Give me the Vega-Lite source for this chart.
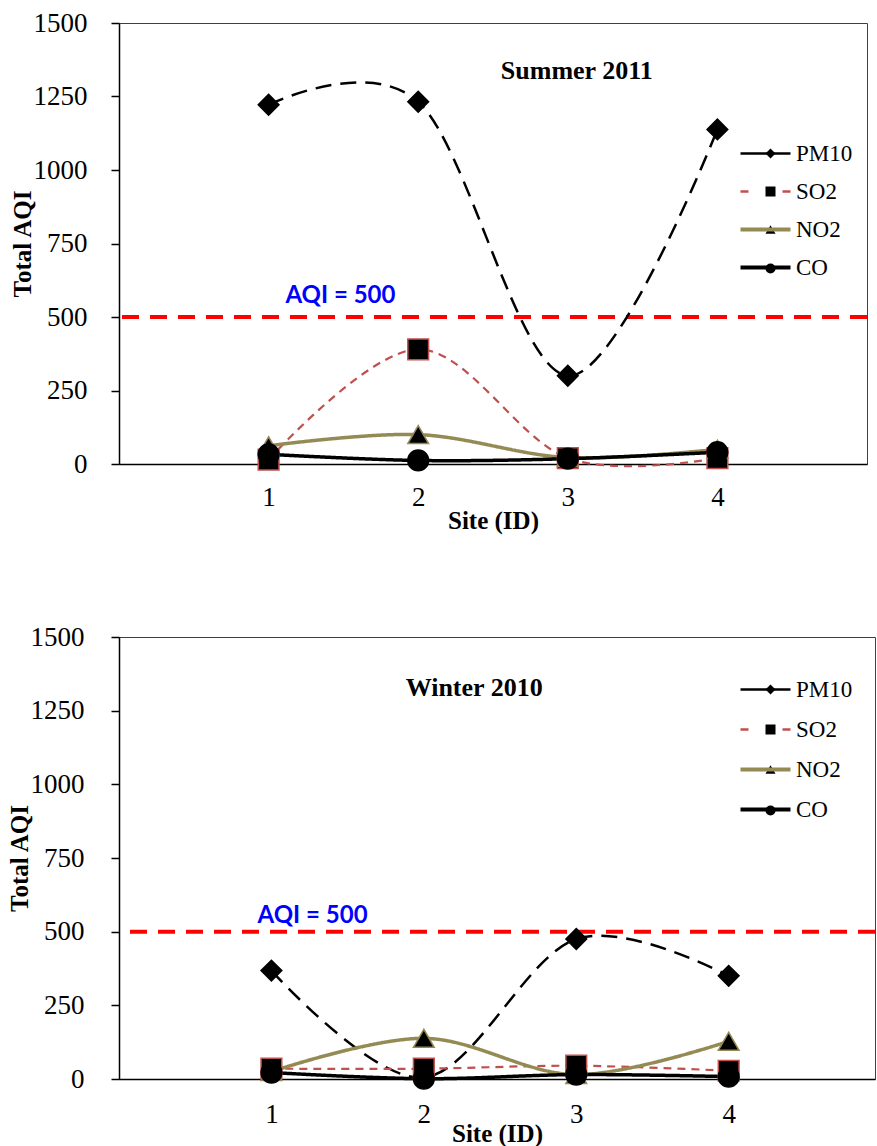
{
  "$schema": "https://vega.github.io/schema/vega-lite/v6.json",
  "padding": {"left": 6, "top": 8, "right": 0, "bottom": 0},
  "datasets": {
    "summer": [
      {"site": 1, "series": "PM10", "value": 1222},
      {"site": 2, "series": "PM10", "value": 1232},
      {"site": 3, "series": "PM10", "value": 300},
      {"site": 4, "series": "PM10", "value": 1138},
      {"site": 1, "series": "SO2", "value": 15},
      {"site": 2, "series": "SO2", "value": 390},
      {"site": 3, "series": "SO2", "value": 20},
      {"site": 4, "series": "SO2", "value": 20},
      {"site": 1, "series": "NO2", "value": 62},
      {"site": 2, "series": "NO2", "value": 100},
      {"site": 3, "series": "NO2", "value": 22},
      {"site": 4, "series": "NO2", "value": 50},
      {"site": 1, "series": "CO", "value": 33},
      {"site": 2, "series": "CO", "value": 12},
      {"site": 3, "series": "CO", "value": 18},
      {"site": 4, "series": "CO", "value": 40}
    ],
    "winter": [
      {"site": 1, "series": "PM10", "value": 368},
      {"site": 2, "series": "PM10", "value": 5},
      {"site": 3, "series": "PM10", "value": 475},
      {"site": 4, "series": "PM10", "value": 350},
      {"site": 1, "series": "SO2", "value": 35},
      {"site": 2, "series": "SO2", "value": 35},
      {"site": 3, "series": "SO2", "value": 45},
      {"site": 4, "series": "SO2", "value": 28},
      {"site": 1, "series": "NO2", "value": 25},
      {"site": 2, "series": "NO2", "value": 138},
      {"site": 3, "series": "NO2", "value": 15},
      {"site": 4, "series": "NO2", "value": 128},
      {"site": 1, "series": "CO", "value": 22},
      {"site": 2, "series": "CO", "value": 1},
      {"site": 3, "series": "CO", "value": 15},
      {"site": 4, "series": "CO", "value": 8}
    ]
  },
  "config": {
    "font": "Liberation Serif",
    "view": {"stroke": "#404040", "strokeWidth": 1},
    "axis": {
      "grid": false,
      "format": "d",
      "domainColor": "black",
      "domainWidth": 1.5,
      "tickColor": "black",
      "tickWidth": 1.5,
      "labelFont": "Liberation Serif",
      "labelFontSize": 27,
      "labelColor": "black",
      "titleFont": "Liberation Serif",
      "titleFontSize": 25,
      "titleFontWeight": "bold",
      "titleColor": "black"
    },
    "axisY": {"tickSize": 8, "labelPadding": 24, "titlePadding": -2},
    "axisX": {"ticks": false, "labelPadding": 20, "titlePadding": -2}
  },
  "spacing": 88,
  "resolve": {
    "scale": {"stroke": "independent", "strokeDash": "independent", "strokeWidth": "independent", "shape": "independent"},
    "legend": {"stroke": "independent", "strokeDash": "independent", "strokeWidth": "independent", "shape": "independent"}
  },
  "vconcat": [
    {
      "width": 748,
      "height": 441,
      "layer": [
        {
          "data": {"values": [{}]},
          "mark": {"type": "rule", "color": "#ff0000", "strokeWidth": 4, "strokeDash": [17, 11]},
          "encoding": {
            "y": {"datum": 500, "type": "quantitative", "title": "Total AQI", "scale": {"domain": [0, 1500], "nice": false}, "axis": {"values": [0, 250, 500, 750, 1000, 1250, 1500]}}
          }
        },
        {
          "data": {"values": [{}]},
          "mark": {"type": "text", "font": "Lato", "fontWeight": "bold", "fontSize": 24, "color": "#0000ff", "dy": -21},
          "encoding": {
            "x": {"datum": 1.48, "type": "quantitative", "title": "Site (ID)", "scale": {"domain": [0, 5], "nice": false, "zero": false}, "axis": {"values": [1, 2, 3, 4]}},
            "y": {"datum": 500, "type": "quantitative", "title": "Total AQI"},
            "text": {"value": "AQI = 500"}
          }
        },
        {
          "data": {"values": [{}]},
          "mark": {"type": "text", "font": "Liberation Serif", "fontWeight": "bold", "fontSize": 26, "color": "black"},
          "encoding": {
            "x": {"datum": 3.06, "type": "quantitative", "title": "Site (ID)"},
            "y": {"datum": 1337, "type": "quantitative", "title": "Total AQI"},
            "text": {"value": "Summer 2011"}
          }
        },
        {
          "data": {"name": "summer"},
          "mark": {"type": "line", "interpolate": "cardinal", "tension": 0},
          "encoding": {
            "x": {"field": "site", "type": "quantitative", "title": "Site (ID)"},
            "y": {"field": "value", "type": "quantitative", "title": "Total AQI"},
            "stroke": {
              "field": "series", "type": "nominal",
              "scale": {"domain": ["PM10", "SO2", "NO2", "CO"], "range": ["#000000", "#c0504d", "#948a54", "#000000"]},
              "legend": {
                "orient": "none", "legendX": 635, "legendY": 119, "title": null,
                "symbolType": "M-2.5,0H2.5", "symbolSize": 400,
                "labelFont": "Liberation Serif", "labelFontSize": 23, "labelColor": "black",
                "labelOffset": 19, "rowPadding": 14,
                "encode": {"symbols": {"update": {
                  "strokeDash": {"signal": "datum.value === 'SO2' ? [8, 34] : [1, 0]"},
                  "strokeWidth": {"signal": "datum.value === 'NO2' || datum.value === 'CO' ? 4 : 2.5"}
                }}}
              }
            },
            "strokeDash": {
              "field": "series", "type": "nominal",
              "scale": {"domain": ["PM10", "SO2", "NO2", "CO"], "range": [[16, 9], [8, 6], [1, 0], [1, 0]]}
            },
            "strokeWidth": {
              "field": "series", "type": "nominal",
              "scale": {"type": "ordinal", "domain": ["PM10", "SO2", "NO2", "CO"], "range": [2.5, 2.2, 3.5, 3.5]}
            }
          }
        },
        {
          "data": {"name": "summer"},
          "mark": {"type": "point", "filled": true, "fill": "black", "size": 430, "strokeWidth": 1.5, "opacity": 1},
          "encoding": {
            "x": {"field": "site", "type": "quantitative", "title": "Site (ID)"},
            "y": {"field": "value", "type": "quantitative", "title": "Total AQI"},
            "shape": {
              "field": "series", "type": "nominal",
              "scale": {"domain": ["PM10", "SO2", "NO2", "CO"], "range": ["diamond", "square", "triangle-up", "circle"]},
              "legend": {
                "orient": "none", "legendX": 640, "legendY": 119, "title": null,
                "labelFont": "Liberation Serif", "labelFontSize": 23, "labelOpacity": 0,
                "labelOffset": 19, "rowPadding": 14,
                "encode": {"symbols": {"update": {"size": {"value": 130}, "fill": {"value": "black"}, "strokeWidth": {"value": 1}}}}
              }
            },
            "stroke": {
              "field": "series", "type": "nominal",
              "scale": {"domain": ["PM10", "SO2", "NO2", "CO"], "range": ["#000000", "#c0504d", "#948a54", "#000000"]}
            }
          }
        }
      ],
      "resolve": {"scale": {"stroke": "independent"}, "legend": {"stroke": "independent"}}
    },
    {
      "width": 756,
      "height": 442,
      "layer": [
        {
          "data": {"values": [{}]},
          "mark": {"type": "rule", "color": "#ff0000", "strokeWidth": 4, "strokeDash": [17, 11]},
          "encoding": {
            "y": {"datum": 500, "type": "quantitative", "title": "Total AQI", "scale": {"domain": [0, 1500], "nice": false}, "axis": {"values": [0, 250, 500, 750, 1000, 1250, 1500], "labelPadding": 27}}
          }
        },
        {
          "data": {"values": [{}]},
          "mark": {"type": "text", "font": "Lato", "fontWeight": "bold", "fontSize": 24, "color": "#0000ff", "dy": -16},
          "encoding": {
            "x": {"datum": 1.27, "type": "quantitative", "title": "Site (ID)", "scale": {"domain": [0, 4.96], "nice": false, "zero": false}, "axis": {"values": [1, 2, 3, 4], "labelPadding": 22, "titlePadding": -6}},
            "y": {"datum": 500, "type": "quantitative", "title": "Total AQI"},
            "text": {"value": "AQI = 500"}
          }
        },
        {
          "data": {"values": [{}]},
          "mark": {"type": "text", "font": "Liberation Serif", "fontWeight": "bold", "fontSize": 26, "color": "black"},
          "encoding": {
            "x": {"datum": 2.33, "type": "quantitative", "title": "Site (ID)"},
            "y": {"datum": 1327, "type": "quantitative", "title": "Total AQI"},
            "text": {"value": "Winter 2010"}
          }
        },
        {
          "data": {"name": "winter"},
          "mark": {"type": "line", "interpolate": "cardinal", "tension": 0},
          "encoding": {
            "x": {"field": "site", "type": "quantitative", "title": "Site (ID)"},
            "y": {"field": "value", "type": "quantitative", "title": "Total AQI"},
            "stroke": {
              "field": "series", "type": "nominal",
              "scale": {"domain": ["PM10", "SO2", "NO2", "CO"], "range": ["#000000", "#c0504d", "#948a54", "#000000"]},
              "legend": {
                "orient": "none", "legendX": 635, "legendY": 41, "title": null,
                "symbolType": "M-2.5,0H2.5", "symbolSize": 400,
                "labelFont": "Liberation Serif", "labelFontSize": 23, "labelColor": "black",
                "labelOffset": 19, "rowPadding": 16,
                "encode": {"symbols": {"update": {
                  "strokeDash": {"signal": "datum.value === 'SO2' ? [8, 34] : [1, 0]"},
                  "strokeWidth": {"signal": "datum.value === 'NO2' || datum.value === 'CO' ? 4 : 2.5"}
                }}}
              }
            },
            "strokeDash": {
              "field": "series", "type": "nominal",
              "scale": {"domain": ["PM10", "SO2", "NO2", "CO"], "range": [[16, 9], [8, 6], [1, 0], [1, 0]]}
            },
            "strokeWidth": {
              "field": "series", "type": "nominal",
              "scale": {"type": "ordinal", "domain": ["PM10", "SO2", "NO2", "CO"], "range": [2.5, 2.2, 3.5, 3.5]}
            }
          }
        },
        {
          "data": {"name": "winter"},
          "mark": {"type": "point", "filled": true, "fill": "black", "size": 430, "strokeWidth": 1.5, "opacity": 1},
          "encoding": {
            "x": {"field": "site", "type": "quantitative", "title": "Site (ID)"},
            "y": {"field": "value", "type": "quantitative", "title": "Total AQI"},
            "shape": {
              "field": "series", "type": "nominal",
              "scale": {"domain": ["PM10", "SO2", "NO2", "CO"], "range": ["diamond", "square", "triangle-up", "circle"]},
              "legend": {
                "orient": "none", "legendX": 640, "legendY": 41, "title": null,
                "labelFont": "Liberation Serif", "labelFontSize": 23, "labelOpacity": 0,
                "labelOffset": 19, "rowPadding": 16,
                "encode": {"symbols": {"update": {"size": {"value": 130}, "fill": {"value": "black"}, "strokeWidth": {"value": 1}}}}
              }
            },
            "stroke": {
              "field": "series", "type": "nominal",
              "scale": {"domain": ["PM10", "SO2", "NO2", "CO"], "range": ["#000000", "#c0504d", "#948a54", "#000000"]}
            }
          }
        }
      ],
      "resolve": {"scale": {"stroke": "independent"}, "legend": {"stroke": "independent"}}
    }
  ]
}
